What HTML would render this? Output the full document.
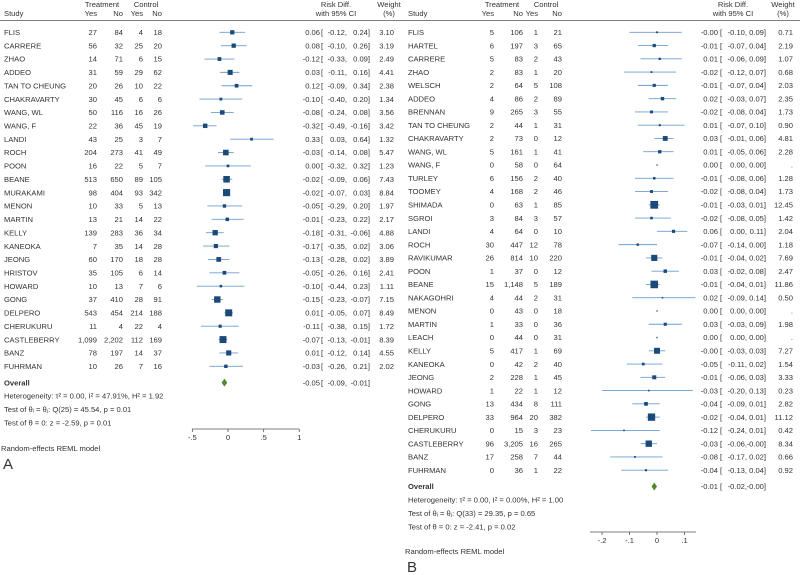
<!DOCTYPE html>
<html><head><meta charset="utf-8">
<style>
html,body{margin:0;padding:0;background:#fff;}
svg{display:block;font-family:"Liberation Sans",sans-serif;font-size:7.6px;fill:#333;}
</style></head>
<body>
<svg id="chart" width="800" height="575" viewBox="0 0 800 575"></svg>
<script>
// ---------- Panel A data ----------
const studiesA = ["FLIS","CARRERE","ZHAO","ADDEO","TAN TO CHEUNG","CHAKRAVARTY","WANG, WL","WANG, F","LANDI","ROCH","POON","BEANE","MURAKAMI","MENON","MARTIN","KELLY","KANEOKA","JEONG","HRISTOV","HOWARD","GONG","DELPERO","CHERUKURU","CASTLEBERRY","BANZ","FUHRMAN"];
const tYesA = ["27","56","14","31","20","30","50","22","43","204","16","513","98","10","13","139","7","60","35","10","37","543","11","1,099","78","10"];
const tNoA = ["84","32","71","59","26","45","116","36","25","273","22","650","404","33","21","283","35","170","105","13","410","454","4","2,202","197","26"];
const cYesA = ["4","25","6","29","10","6","16","45","3","41","5","89","93","5","14","36","14","18","6","7","28","214","22","112","14","7"];
const cNoA = ["18","20","15","62","22","6","26","19","7","49","7","105","342","13","22","34","28","28","14","6","91","188","4","169","37","16"];
const rdA = [0.06,0.08,-0.12,0.03,0.12,-0.10,-0.08,-0.32,0.33,-0.03,0.00,-0.02,-0.02,-0.05,-0.01,-0.18,-0.17,-0.13,-0.05,-0.10,-0.15,0.01,-0.11,-0.07,0.01,-0.03];
const loA = [-0.12,-0.10,-0.33,-0.11,-0.09,-0.40,-0.24,-0.49,0.03,-0.14,-0.32,-0.09,-0.07,-0.29,-0.23,-0.31,-0.35,-0.28,-0.26,-0.44,-0.23,-0.05,-0.38,-0.13,-0.12,-0.26];
const hiA = [0.24,0.26,0.09,0.16,0.34,0.20,0.08,-0.16,0.64,0.08,0.32,0.06,0.03,0.20,0.22,-0.06,0.02,0.02,0.16,0.23,-0.07,0.07,0.15,-0.01,0.14,0.21];
const wA = ["3.10","3.19","2.49","4.41","2.38","1.34","3.56","3.42","1.32","5.47","1.23","7.43","8.84","1.97","2.17","4.88","3.06","3.89","2.41","1.11","7.15","8.49","1.72","8.39","4.55","2.02"];
const overallA = [-0.05,-0.09,-0.01];
const ticksA = [-0.5,0,0.5,1];
const tickLabelsA = ["-.5","0",".5","1"];
const statsA = ["Heterogeneity: τ² = 0.00, I² = 47.91%, H² = 1.92","Test of θᵢ = θⱼ: Q(25) = 45.54, p = 0.01","Test of θ = 0: z = -2.59, p = 0.01"];

// ---------- Panel B data ----------
const studiesB = ["FLIS","HARTEL","CARRERE","ZHAO","WELSCH","ADDEO","BRENNAN","TAN TO CHEUNG","CHAKRAVARTY","WANG, WL","WANG, F","TURLEY","TOOMEY","SHIMADA","SGROI","LANDI","ROCH","RAVIKUMAR","POON","BEANE","NAKAGOHRI","MENON","MARTIN","LEACH","KELLY","KANEOKA","JEONG","HOWARD","GONG","DELPERO","CHERUKURU","CASTLEBERRY","BANZ","FUHRMAN"];
const tYesB = ["5","6","5","2","2","4","9","2","2","5","0","6","4","0","3","4","30","26","1","15","4","0","1","0","5","0","2","1","13","33","0","96","17","0"];
const tNoB = ["106","197","83","83","64","86","265","44","73","161","58","156","168","63","84","64","447","814","37","1,148","44","43","33","44","417","42","228","22","434","964","15","3,205","258","36"];
const cYesB = ["1","3","2","1","5","2","3","1","0","1","0","2","2","1","3","0","12","10","0","5","2","0","0","0","1","2","1","1","8","20","3","16","7","1"];
const cNoB = ["21","65","43","20","108","89","55","31","12","41","64","40","46","85","57","10","78","220","12","189","31","18","36","31","69","40","45","12","111","382","23","265","44","22"];
const rdB = [-0.00,-0.01,0.01,-0.02,-0.01,0.02,-0.02,0.01,0.03,0.01,0.00,-0.01,-0.02,-0.01,-0.02,0.06,-0.07,-0.01,0.03,-0.01,0.02,0.00,0.03,0.00,-0.00,-0.05,-0.01,-0.03,-0.04,-0.02,-0.12,-0.03,-0.08,-0.04];
const loB = [-0.10,-0.07,-0.06,-0.12,-0.07,-0.03,-0.08,-0.07,-0.01,-0.05,0.00,-0.08,-0.08,-0.03,-0.08,0.00,-0.14,-0.04,-0.02,-0.04,-0.09,0.00,-0.03,0.00,-0.03,-0.11,-0.06,-0.20,-0.09,-0.04,-0.24,-0.06,-0.17,-0.13];
const hiB = [0.09,0.04,0.09,0.07,0.04,0.07,0.04,0.10,0.06,0.06,0.00,0.06,0.04,0.01,0.05,0.11,0.00,0.02,0.08,0.01,0.14,0.00,0.09,0.00,0.03,0.02,0.03,0.13,0.01,0.01,0.01,-0.00,0.02,0.04];
const wB = ["0.71","2.19","1.07","0.68","2.03","2.35","1.73","0.90","4.81","2.28",".","1.28","1.73","12.45","1.42","2.04","1.18","7.69","2.47","11.86","0.50",".","1.98",".","7.27","1.54","3.33","0.23","2.82","11.12","0.42","8.34","0.66","0.92"];
const rdTextB = ["-0.00","-0.01","0.01","-0.02","-0.01","0.02","-0.02","0.01","0.03","0.01","0.00","-0.01","-0.02","-0.01","-0.02","0.06","-0.07","-0.01","0.03","-0.01","0.02","0.00","0.03","0.00","-0.00","-0.05","-0.01","-0.03","-0.04","-0.02","-0.12","-0.03","-0.08","-0.04"];
const overallB = [-0.01,-0.02,-0.00];
const ticksB = [-0.2,-0.1,0,0.1];
const tickLabelsB = ["-.2","-.1","0",".1"];
const statsB = ["Heterogeneity: τ² = 0.00, I² = 0.00%, H² = 1.00","Test of θᵢ = θⱼ: Q(33) = 29.35, p = 0.65","Test of θ = 0: z = -2.41, p = 0.02"];

const NS = "http://www.w3.org/2000/svg";
const svg = document.getElementById("chart");
function mk(tag, attrs, parent){ const e=document.createElementNS(NS,tag); for(const k in attrs) e.setAttribute(k,attrs[k]); (parent||svg).appendChild(e); return e; }
function txt(parent,x,y,s,anchor,extra){ const t=mk("text",Object.assign({x:x,y:y,"text-anchor":anchor||"start"},extra||{}),parent); t.textContent=s; return t; }
function fmt(v){ let s=Math.abs(v).toFixed(2); return (v<0||Object.is(v,-0)?"-":"")+s; }

function panel(cfg){
  const g = mk("g",{});
  
  
  const o = cfg.ox;
  const xs = v => cfg.zeroX + v*cfg.scale;
  const rowY = i => cfg.y0 + i*cfg.step;
  // header
  const hd = mk("g",{},g);
  
  
  txt(hd,o+cfg.cT,7,"Treatment","middle");
  txt(hd,o+cfg.cC,7,"Control","middle");
  txt(hd,o+4+cfg.sx,16,"Study");
  txt(hd,cfg.colTY,16,"Yes","end"); txt(hd,cfg.colTN,16,"No","end");
  txt(hd,cfg.colCY,16,"Yes","end"); txt(hd,cfg.colCN,16,"No","end");
  txt(hd,cfg.rdHead,7,"Risk Diff.","middle");
  txt(hd,cfg.rdHead,16,"with 95% CI","middle");
  txt(hd,cfg.wHead,7,"Weight","middle");
  txt(hd,cfg.wHead,16,"(%)","middle");
  const hl = mk("line",{x1:o,x2:o+400,y1:20.5,y2:20.5,stroke:"#555","stroke-width":0.8},g);
  
  
  const d = cfg.data;
  for(let i=0;i<d.studies.length;i++){
    const y = rowY(i);
    const r = mk("g",{},g);
    
    
    txt(r,o+4+cfg.sx,y+2.7,d.studies[i]);
    txt(r,cfg.colTY,y+2.7,d.tYes[i],"end");
    txt(r,cfg.colTN,y+2.7,d.tNo[i],"end");
    txt(r,cfg.colCY,y+2.7,d.cYes[i],"end");
    txt(r,cfg.colCN,y+2.7,d.cNo[i],"end");
    const ci = mk("line",{x1:xs(d.lo[i]),x2:xs(d.hi[i]),y1:y,y2:y,stroke:"#6d9dd0","stroke-width":0.9},r);
    
    
    const wv = parseFloat(d.w[i]);
    const s = isNaN(wv)?1.3:Math.max(1.6,Math.sqrt(wv)*cfg.msz);
    const sq = mk("rect",{x:xs(d.rd[i])-s/2,y:y-s/2,width:s,height:s,fill:"#1c4a78"},r);
    
    
    txt(r,cfg.rdX,y+2.7,d.rdText?d.rdText[i]:fmt(d.rd[i]),"end");
    txt(r,cfg.brX,y+2.7,"[","start");
    txt(r,cfg.loX,y+2.7,fmt(d.lo[i])+",","end");
    txt(r,cfg.hiX,y+2.7,fmt(d.hi[i])+"]","end");
    txt(r,cfg.wX,y+2.7,d.w[i],"end");
  }
  // overall
  const oy = rowY(d.studies.length)+3;
  const og = mk("g",{},g);
  
  
  txt(og,o+4+cfg.sx,oy+2.7,"Overall","start",{"font-weight":"bold"});
  const ov = cfg.overall;
  const dm = mk("polygon",{points:`${xs(ov[1])},${oy} ${xs(ov[0])},${oy-4} ${xs(ov[2])},${oy} ${xs(ov[0])},${oy+4}`,fill:"#4f8a2e"},og);
  
  
  txt(og,cfg.rdX,oy+2.7,fmt(ov[0]),"end");
  txt(og,cfg.brX,oy+2.7,"[","start");
  txt(og,cfg.loX,oy+2.7,fmt(ov[1])+",","end");
  txt(og,cfg.hiX,oy+2.7,fmt(ov[2])+"]","end");
  // stats
  for(let k=0;k<cfg.stats.length;k++){
    const t = txt(g,o+4+cfg.sx,oy+16+k*13.5,cfg.stats[k]);
    
    
  }
  // axis
  const ax = mk("g",{},g);
  
  
  mk("line",{x1:cfg.axL,x2:cfg.axR,y1:cfg.axY,y2:cfg.axY,stroke:"#555","stroke-width":0.8},ax);
  cfg.ticks.forEach((t,k)=>{
    mk("line",{x1:xs(t),x2:xs(t),y1:cfg.axY,y2:cfg.axY+3,stroke:"#555","stroke-width":0.8},ax);
    txt(ax,xs(t),cfg.axY+11,cfg.tickLabels[k],"middle");
  });
  const md = txt(g,o+4+cfg.sx-3,cfg.axY+22,"Random-effects REML model");
  
  
  const pl = txt(g,o+3+cfg.sx,cfg.axY+40,cfg.letter,"start",{"font-size":"15px"});
  
  
}

panel({name:"panel-a",ox:0,sx:0,y0:32.3,step:13.36,zeroX:228,scale:71.3,msz:2.4,
  cT:102,cC:146,colTY:97,colTN:123,colCY:143,colCN:162,rdHead:336,wHead:389,
  rdX:320,brX:321,loX:347,hiX:370,wX:394,axL:192,axR:299,axY:429,
  ticks:ticksA,tickLabels:tickLabelsA,stats:statsA,overall:overallA,letter:"A",
  data:{studies:studiesA,tYes:tYesA,tNo:tNoA,cYes:cYesA,cNo:cNoA,rd:rdA,lo:loA,hi:hiA,w:wA}});
panel({name:"panel-b",ox:400,sx:4,y0:32.3,step:13.27,zeroX:657,scale:275,msz:2.2,
  cT:102,cC:146,colTY:494,colTN:523,colCY:538,colCN:562,rdHead:733,wHead:783,
  rdX:718,brX:720,loX:747,hiX:766,wX:793,axL:590,axR:696,axY:532,
  ticks:ticksB,tickLabels:tickLabelsB,stats:statsB,overall:overallB,letter:"B",
  data:{studies:studiesB,tYes:tYesB,tNo:tNoB,cYes:cYesB,cNo:cNoB,rd:rdB,lo:loB,hi:hiB,w:wB,rdText:rdTextB}});
</script>
</body></html>
